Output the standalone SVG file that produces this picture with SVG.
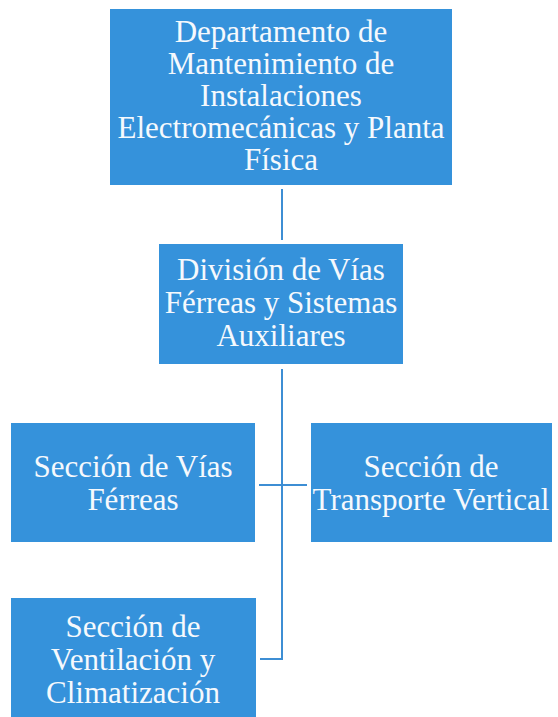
<svg xmlns="http://www.w3.org/2000/svg" width="558" height="717" viewBox="0 0 558 717">
<style>
.box{fill:#3592DB;}
.lbl{font-family:"Liberation Serif","Times New Roman",serif;font-size:31px;fill:#F5F9FD;text-anchor:middle;}
.con{stroke:#3D8ED4;stroke-width:2;fill:none;}
</style>
<rect x="0" y="0" width="558" height="717" fill="#FFFFFF"/>
<g id="connectors">
<line class="con" x1="282" y1="189" x2="282" y2="240"/>
<polyline class="con" points="282,369 282,659 260,659"/>
<line class="con" x1="259" y1="485" x2="307" y2="485"/>
</g>
<g id="node-departamento">
<rect class="box" x="110" y="9" width="342" height="176"/>
<text class="lbl" x="281" y="42">Departamento de</text>
<text class="lbl" x="281" y="74">Mantenimiento de</text>
<text class="lbl" x="281" y="106">Instalaciones</text>
<text class="lbl" x="281" y="138">Electromecánicas y Planta</text>
<text class="lbl" x="281" y="170">Física</text>
</g>
<g id="node-division">
<rect class="box" x="159" y="244" width="244" height="120"/>
<text class="lbl" x="281" y="280">División de Vías</text>
<text class="lbl" x="281" y="313">Férreas y Sistemas</text>
<text class="lbl" x="281" y="346">Auxiliares</text>
</g>
<g id="node-vias">
<rect class="box" x="11" y="423" width="244" height="119"/>
<text class="lbl" x="133" y="477">Sección de Vías</text>
<text class="lbl" x="133" y="510">Férreas</text>
</g>
<g id="node-transporte">
<rect class="box" x="311" y="423" width="241" height="119"/>
<text class="lbl" x="431" y="477">Sección de</text>
<text class="lbl" x="431" y="510">Transporte Vertical</text>
</g>
<g id="node-ventilacion">
<rect class="box" x="11" y="598" width="245" height="119"/>
<text class="lbl" x="133" y="637">Sección de</text>
<text class="lbl" x="133" y="670">Ventilación y</text>
<text class="lbl" x="133" y="703">Climatización</text>
</g>
</svg>
